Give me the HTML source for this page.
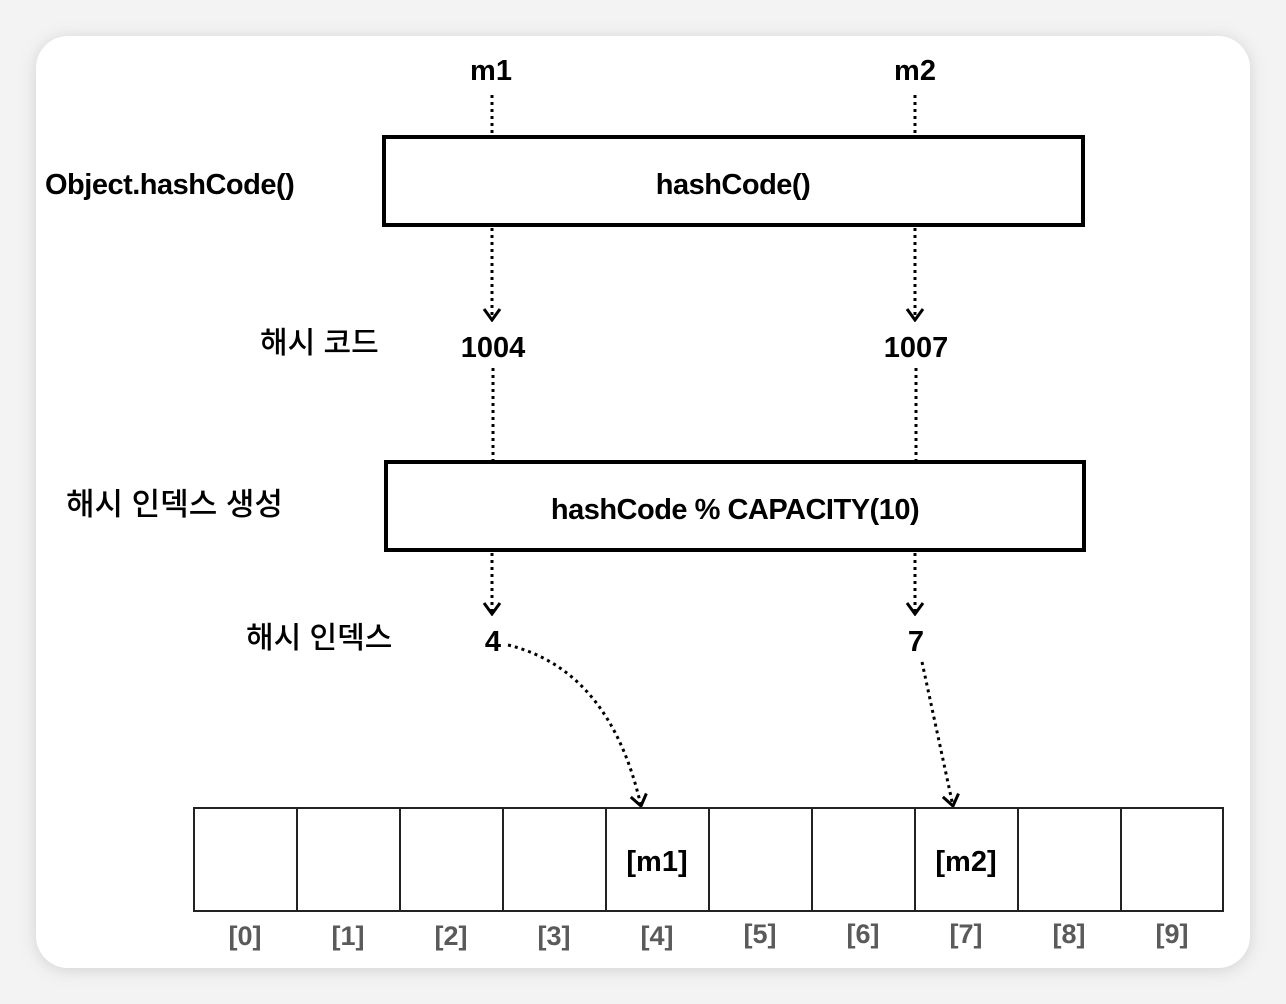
<!DOCTYPE html>
<html><head><meta charset="utf-8"><style>
html,body{margin:0;padding:0;width:1286px;height:1004px;overflow:hidden;background:#ececec;}
</style></head><body>
<svg width="1286" height="1004" viewBox="0 0 1286 1004" xmlns="http://www.w3.org/2000/svg" font-family="'Liberation Sans','Noto Sans CJK KR',sans-serif">
<defs>
<filter id="sh" x="-5%" y="-5%" width="110%" height="110%"><feGaussianBlur stdDeviation="8"/></filter>
<marker id="ar" viewBox="0 0 20 20" refX="18" refY="10" markerWidth="20" markerHeight="20" markerUnits="userSpaceOnUse" orient="auto">
<path d="M7,2 L18,10 L7,18" fill="none" stroke="#000" stroke-width="3"/></marker>
</defs>
<rect width="1286" height="1004" fill="#f3f3f3"/>
<rect x="36" y="38" width="1214" height="932" rx="32" fill="#bbb" filter="url(#sh)" opacity="0.6"/>
<rect x="36" y="36" width="1214" height="932" rx="32" fill="#fff"/>
<g fill="#000" font-size="29" font-weight="bold">
<text x="491" y="80" text-anchor="middle">m1</text>
<text x="915" y="80" text-anchor="middle">m2</text>
<text x="45" y="194" letter-spacing="-0.5">Object.hashCode()</text>
<text x="733" y="194" text-anchor="middle" letter-spacing="-0.5">hashCode()</text>
<text x="260" y="353" font-size="30" font-weight="500">해시 코드</text>
<text x="493" y="357" text-anchor="middle">1004</text>
<text x="916" y="357" text-anchor="middle">1007</text>
<text x="66" y="515" font-size="31" font-weight="500">해시 인덱스 생성</text>
<text x="735" y="519" text-anchor="middle" letter-spacing="-0.5">hashCode % CAPACITY(10)</text>
<text x="246" y="648" font-size="30" font-weight="500">해시 인덱스</text>
<text x="493" y="651" text-anchor="middle">4</text>
<text x="916" y="651" text-anchor="middle">7</text>
</g>
<g fill="none" stroke="#000" stroke-width="4">
<rect x="384" y="137" width="699" height="88"/>
<rect x="386" y="462" width="698" height="88"/>
</g>
<g stroke="#000" stroke-width="3" stroke-dasharray="3,4" fill="none">
<line x1="492" y1="95" x2="492" y2="135"/>
<line x1="915" y1="95" x2="915" y2="135"/>
<line x1="492" y1="228" x2="492" y2="320" marker-end="url(#ar)"/>
<line x1="915" y1="228" x2="915" y2="320" marker-end="url(#ar)"/>
<line x1="493" y1="368" x2="493" y2="460"/>
<line x1="916" y1="368" x2="916" y2="460"/>
<line x1="492" y1="553" x2="492" y2="614" marker-end="url(#ar)"/>
<line x1="915" y1="553" x2="915" y2="614" marker-end="url(#ar)"/>
<path d="M508,645 Q610,670 641,806" marker-end="url(#ar)"/>
<line x1="922" y1="662" x2="953" y2="806" marker-end="url(#ar)"/>
</g>
<g fill="none" stroke="#222" stroke-width="2">
<rect x="194" y="808" width="1029" height="103"/>
<line x1="297" y1="808" x2="297" y2="911"/>
<line x1="400" y1="808" x2="400" y2="911"/>
<line x1="503" y1="808" x2="503" y2="911"/>
<line x1="606" y1="808" x2="606" y2="911"/>
<line x1="709" y1="808" x2="709" y2="911"/>
<line x1="812" y1="808" x2="812" y2="911"/>
<line x1="915" y1="808" x2="915" y2="911"/>
<line x1="1018" y1="808" x2="1018" y2="911"/>
<line x1="1121" y1="808" x2="1121" y2="911"/>
</g>
<g font-size="29" fill="#000" text-anchor="middle" font-weight="bold">
<text x="657" y="871">[m1]</text>
<text x="966" y="871">[m2]</text>
</g>
<g font-size="27" fill="#5a5a5a" text-anchor="middle" font-weight="bold">
<text x="245" y="945">[0]</text>
<text x="348" y="945">[1]</text>
<text x="451" y="945">[2]</text>
<text x="554" y="945">[3]</text>
<text x="657" y="945">[4]</text>
<text x="760" y="943">[5]</text>
<text x="863" y="943">[6]</text>
<text x="966" y="943">[7]</text>
<text x="1069" y="943">[8]</text>
<text x="1172" y="943">[9]</text>
</g>
</svg>
</body></html>
